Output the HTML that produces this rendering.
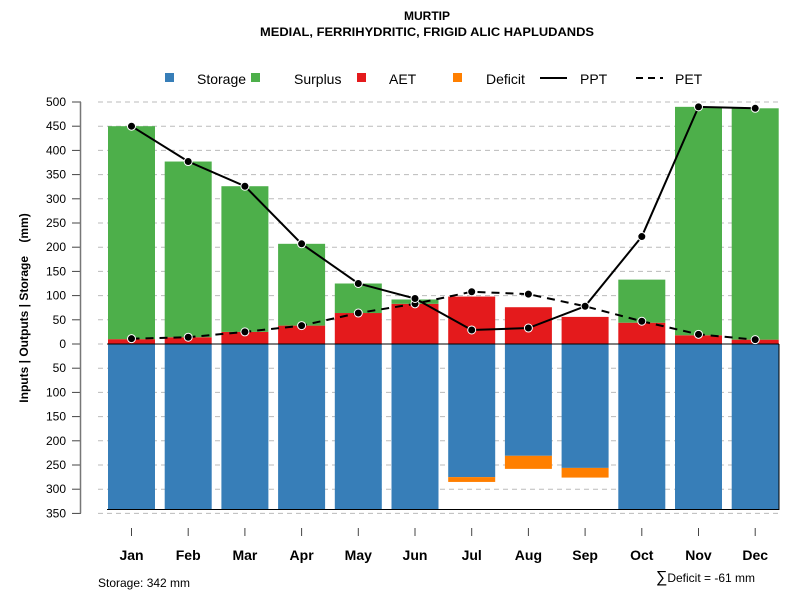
<!DOCTYPE html>
<html><head><meta charset="utf-8"><style>
body{margin:0;background:#fff;font-family:"Liberation Sans",sans-serif}
svg text{font-family:"Liberation Sans",sans-serif}
</style></head><body>
<svg id="chart" width="800" height="600" xmlns="http://www.w3.org/2000/svg">
<text x="427" y="20" text-anchor="middle" font-size="12" font-weight="bold">MURTIP</text>
<text x="427" y="36" text-anchor="middle" font-size="12" font-weight="bold" textLength="334" lengthAdjust="spacingAndGlyphs">MEDIAL, FERRIHYDRITIC, FRIGID ALIC HAPLUDANDS</text>
<g id="legend" font-size="14">
<rect x="165" y="73" width="9" height="9" fill="#377EB8"/><text x="197" y="84">Storage</text>
<rect x="251" y="73" width="9" height="9" fill="#4DAF4A"/><text x="294" y="84">Surplus</text>
<rect x="357" y="73" width="9" height="9" fill="#E41A1C"/><text x="389" y="84">AET</text>
<rect x="453" y="73" width="9" height="9" fill="#FF7F00"/><text x="486" y="84">Deficit</text>
<line x1="540" y1="78" x2="567" y2="78" stroke="#000" stroke-width="2"/><text x="580" y="84">PPT</text>
<line x1="636" y1="78" x2="663" y2="78" stroke="#000" stroke-width="2" stroke-dasharray="7,5"/><text x="675" y="84">PET</text>
</g>
<g id="grid"></g><g id="bars"></g><g id="lines"></g><g id="axes"></g>
<text transform="translate(28,308) rotate(-90)" text-anchor="middle" font-size="12" font-weight="bold" style="white-space:pre">Inputs | Outputs | Storage    (mm)</text>
<text x="98" y="587" font-size="12">Storage: 342 mm</text>
<text x="755" y="582" text-anchor="end" font-size="12"><tspan font-size="16">∑</tspan>Deficit = -61 mm</text>
</svg>
<script>
const months=["Jan","Feb","Mar","Apr","May","Jun","Jul","Aug","Sep","Oct","Nov","Dec"];
const storage=[342,342,342,342,342,342,275,231,256,342,342,342];
const deficit=[0,0,0,0,0,0,10,27,20,0,0,0];
const aet=[10,14,25,38,64,83,98,76,56,44,18,9];
const surplus=[440,363,301,169,61,9,0,0,0,89,472,478];
const ppt=[450,377,326,207,125,94,29,33,78,222,490,487];
const pet=[11,14,25,38,64,83,108,103,78,47,20,9];
const yTicks=[500,450,400,350,300,250,200,150,100,50,0,50,100,150,200,250,300,350];
const NS="http://www.w3.org/2000/svg";
const y0=344,k=0.484;
function Y(v){return y0-v*k;}
function X(i){return 131.5+i*56.7;}
const bw=47;
function mk(t,a,p){const e=document.createElementNS(NS,t);for(const q in a)e.setAttribute(q,a[q]);p.appendChild(e);return e;}
const grid=document.getElementById('grid'),bars=document.getElementById('bars'),lines=document.getElementById('lines'),axes=document.getElementById('axes');
yTicks.forEach((t,j)=>{const v=j<=10?t:-t;const y=Y(v);
 const g=mk('line',{x1:98,x2:780,y1:y,y2:y,stroke:'#bbb','stroke-dasharray':'5,4'},grid);
 
 
 const tk=mk('line',{x1:72,x2:81,y1:y,y2:y,stroke:'#444'},axes);
 
 
 const tx=mk('text',{x:66,y:y+4,'text-anchor':'end','font-size':12},axes);tx.textContent=t;
 
 
});
const ax=mk('line',{x1:80.5,x2:80.5,y1:Y(500),y2:Y(-350),stroke:'#777','stroke-width':1.5},axes);


months.forEach((m,i)=>{const x=X(i)-bw/2;
 const s=mk('rect',{x:x,y:y0,width:bw,height:storage[i]*k,fill:'#377EB8'},bars);
 
 
 if(deficit[i]>0){const d=mk('rect',{x:x,y:Y(-storage[i]),width:bw,height:deficit[i]*k,fill:'#FF7F00'},bars);
  
  }
 const a=mk('rect',{x:x,y:Y(aet[i]),width:bw,height:aet[i]*k,fill:'#E41A1C'},bars);
 
 
 if(surplus[i]>0){const u=mk('rect',{x:x,y:Y(aet[i]+surplus[i]),width:bw,height:surplus[i]*k,fill:'#4DAF4A'},bars);
  
  }
 const tk=mk('line',{x1:X(i),x2:X(i),y1:528,y2:536,stroke:'#444'},axes);
 
 
 const tl=mk('text',{x:X(i),y:560,'text-anchor':'middle','font-size':14,'font-weight':'bold'},axes);tl.textContent=m;
 
 
});
const zl=mk('line',{x1:107,x2:779,y1:y0,y2:y0,stroke:'#000'},bars);


const bl=mk('path',{d:`M107,${Y(-342)}H779V${y0}`,stroke:'#000',fill:'none'},bars);


function series(vals,dash,name){
 const p=mk('polyline',{points:vals.map((v,i)=>X(i)+','+Y(v)).join(' '),fill:'none',stroke:'#000','stroke-width':2},lines);
 if(dash)p.setAttribute('stroke-dasharray','8,6');
 
 
 vals.forEach((v,i)=>{const c=mk('circle',{cx:X(i),cy:Y(v),r:4,fill:'#000',stroke:'#fff','stroke-width':1},lines);
  
  });
}
series(pet,true,'pet');
series(ppt,false,'ppt');
</script>
</body></html>
